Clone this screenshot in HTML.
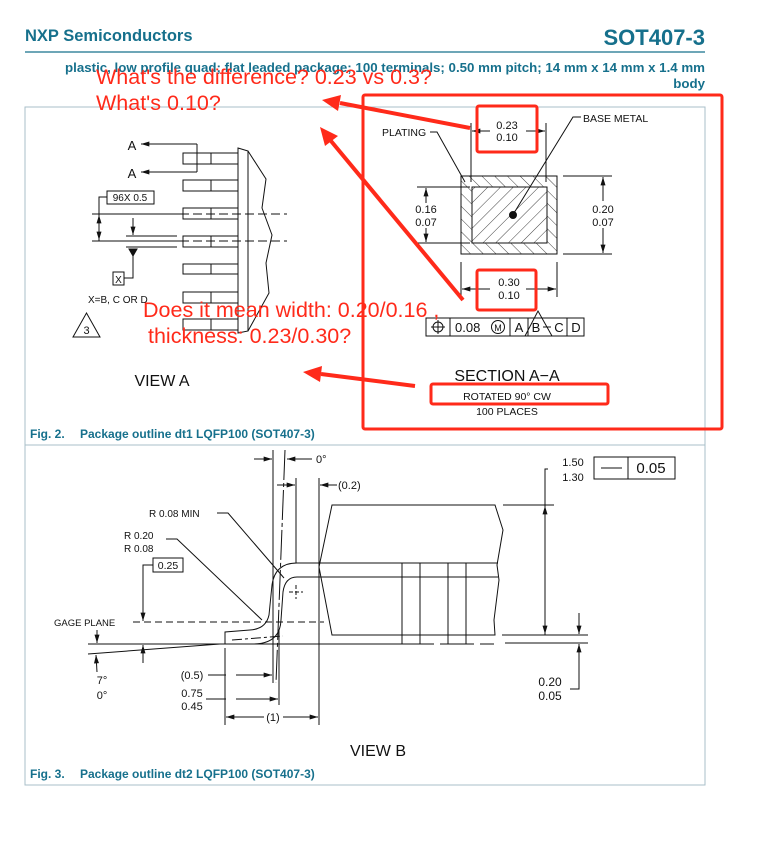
<!DOCTYPE html>
<html><head><meta charset="utf-8"><style>
html,body{margin:0;padding:0;background:#fff;}
svg{display:block;}
.d{font-family:"Liberation Sans",sans-serif;font-size:11px;fill:#111;}
.t{font-family:"Liberation Sans",sans-serif;font-weight:bold;fill:#16708c;}
.r{font-family:"Liberation Sans","Noto Sans CJK SC",sans-serif;font-size:21.5px;fill:#ff2a1a;}
</style></head><body>
<svg width="759" height="845" viewBox="0 0 759 845" xmlns="http://www.w3.org/2000/svg">
<defs>
<marker id="ah" viewBox="0 0 10 6" refX="10" refY="3" markerWidth="9" markerHeight="5" orient="auto-start-reverse" markerUnits="userSpaceOnUse"><path d="M0,0 L10,3 L0,6 z" fill="#111"/></marker>
<pattern id="h1" width="9" height="9" patternUnits="userSpaceOnUse" patternTransform="rotate(45)"><line x1="0" y1="0" x2="0" y2="9" stroke="#111" stroke-width="0.8"/></pattern>
<pattern id="h2" width="9" height="9" patternUnits="userSpaceOnUse" patternTransform="rotate(-45)"><line x1="0" y1="0" x2="0" y2="9" stroke="#111" stroke-width="0.8"/></pattern>
</defs>
<!-- header -->
<text class="t" x="25" y="41" font-size="16.5">NXP Semiconductors</text>
<text class="t" x="705" y="45" font-size="22" text-anchor="end">SOT407-3</text>
<line x1="25" y1="52" x2="705" y2="52" stroke="#16708c" stroke-width="1.2"/>
<text class="t" x="705" y="72" font-size="13.3" text-anchor="end">plastic, low profile quad; flat leaded package; 100 terminals; 0.50 mm pitch; 14 mm x 14 mm x 1.4 mm</text>
<text class="t" x="705" y="88" font-size="13.3" text-anchor="end">body</text>
<!-- panels -->
<rect x="25" y="107" width="680" height="338" fill="none" stroke="#a9bfc9"/>
<rect x="25" y="445" width="680" height="340" fill="none" stroke="#a9bfc9"/>
<text class="t" x="30" y="438" font-size="12">Fig. 2.</text>
<text class="t" x="80" y="438" font-size="12">Package outline dt1 LQFP100 (SOT407-3)</text>
<text class="t" x="30" y="778" font-size="12">Fig. 3.</text>
<text class="t" x="80" y="778" font-size="12">Package outline dt2 LQFP100 (SOT407-3)</text>

<g stroke="#111" stroke-width="1" fill="none">
<!-- VIEW A -->
<line x1="197" y1="144" x2="141" y2="144" marker-end="url(#ah)"/>
<line x1="197" y1="172" x2="141" y2="172" marker-end="url(#ah)"/>
<line x1="197" y1="144" x2="197" y2="172"/>
<rect x="183" y="153" width="55" height="11"/><line x1="211" y1="153" x2="211" y2="164"/>
<rect x="183" y="180" width="55" height="11"/><line x1="211" y1="180" x2="211" y2="191"/>
<rect x="183" y="208" width="55" height="11"/><line x1="211" y1="208" x2="211" y2="219"/>
<rect x="183" y="236" width="55" height="11"/><line x1="211" y1="236" x2="211" y2="247"/>
<rect x="183" y="264" width="55" height="10"/><line x1="211" y1="264" x2="211" y2="274"/>
<rect x="183" y="292" width="55" height="11"/><line x1="211" y1="292" x2="211" y2="303"/>
<rect x="183" y="319" width="55" height="11"/><line x1="211" y1="319" x2="211" y2="330"/>
<path d="M238,148 L248,151 L248,331 L238,333 Z"/>
<path d="M248,151 L266,179 L262,208 L272,235 L266,263 L269,293 L248,331"/>
<line x1="92" y1="214" x2="180" y2="214"/><line x1="180" y1="214" x2="287" y2="214" stroke-dasharray="9,4"/>
<line x1="92" y1="241" x2="180" y2="241"/><line x1="180" y1="241" x2="287" y2="241" stroke-dasharray="9,4"/>
<rect x="107" y="191" width="47" height="13"/>
<polyline points="107,197 99,197 99,241"/>
<line x1="99" y1="227" x2="99" y2="215" marker-end="url(#ah)"/>
<line x1="99" y1="228" x2="99" y2="240" marker-end="url(#ah)"/>
<line x1="133" y1="218" x2="133" y2="235" marker-end="url(#ah)"/>
<line x1="126" y1="236" x2="177" y2="236"/>
<line x1="126" y1="247" x2="177" y2="247"/>
<path d="M129,249 L137,249 L133,256 Z" fill="#111"/>
<polyline points="133,255 133,278 124,278"/>
<rect x="113" y="272" width="11" height="13"/>
<path d="M73,337 L100,337 L86.5,313 Z"/>
<!-- SECTION A-A -->
<rect x="461" y="176" width="96" height="78" fill="url(#h2)"/>
<rect x="472" y="187" width="75" height="56" fill="#fff"/>
<rect x="472" y="187" width="75" height="56" fill="url(#h1)"/>
<circle cx="513" cy="215" r="3.5" fill="#111"/>
<line x1="471" y1="123" x2="471" y2="182"/><line x1="546" y1="123" x2="546" y2="182"/>
<line x1="490" y1="131" x2="472" y2="131" marker-end="url(#ah)"/>
<line x1="526" y1="131" x2="545" y2="131" marker-end="url(#ah)"/>
<polyline points="430,132 437,132 465,182"/>
<polyline points="581,117 573,117 514,213"/>
<line x1="417" y1="187" x2="470" y2="187"/><line x1="417" y1="243" x2="470" y2="243"/>
<line x1="426" y1="203" x2="426" y2="188" marker-end="url(#ah)"/>
<line x1="426" y1="228" x2="426" y2="242" marker-end="url(#ah)"/>
<line x1="563" y1="176" x2="612" y2="176"/><line x1="563" y1="254" x2="612" y2="254"/>
<line x1="603" y1="201" x2="603" y2="177" marker-end="url(#ah)"/>
<line x1="603" y1="228" x2="603" y2="253" marker-end="url(#ah)"/>
<line x1="461" y1="262" x2="461" y2="297"/><line x1="557" y1="262" x2="557" y2="297"/>
<line x1="490" y1="289" x2="462" y2="289" marker-end="url(#ah)"/>
<line x1="526" y1="289" x2="556" y2="289" marker-end="url(#ah)"/>
<rect x="426" y="318" width="158" height="18"/>
<line x1="450" y1="318" x2="450" y2="336"/><line x1="510" y1="318" x2="510" y2="336"/>
<line x1="528" y1="318" x2="528" y2="336"/><line x1="567" y1="318" x2="567" y2="336"/>
<circle cx="438" cy="327" r="5"/><line x1="431" y1="327" x2="445" y2="327"/><line x1="438" y1="320" x2="438" y2="334"/>
<circle cx="498" cy="327" r="6.5"/>
<path d="M525,336 L552,336 L538,311 Z"/>
<line x1="543" y1="327" x2="551" y2="327"/>
<!-- VIEW B -->
<line x1="273" y1="450" x2="273" y2="683"/>
<line x1="285" y1="450" x2="276" y2="683" stroke-dasharray="30,3,4,3"/>
<line x1="254" y1="459" x2="272" y2="459" marker-end="url(#ah)"/>
<line x1="312" y1="459" x2="287" y2="459" marker-end="url(#ah)"/>
<line x1="296" y1="478" x2="296" y2="563"/>
<line x1="319" y1="478" x2="319" y2="725"/>
<line x1="277" y1="485" x2="295" y2="485" marker-end="url(#ah)"/>
<line x1="337" y1="485" x2="320" y2="485" marker-end="url(#ah)"/>
<path d="M332,505 L495,505 L503,530 L497,565 L499,580 L494,620 L495,635 L332,635 L319,567 Z"/>
<line x1="503" y1="505" x2="554" y2="505"/>
<line x1="297" y1="563" x2="498" y2="563"/>
<line x1="297" y1="577" x2="498" y2="577"/>
<path d="M297,563 Q275,563 272,585 L269,615 Q266,629 250,630 L225,632 L225,644 L253,644 Q280,644 281,620 L283,592 Q285,577 297,577"/>
<rect x="402" y="563" width="18" height="81"/><line x1="402" y1="635" x2="420" y2="635"/>
<rect x="448" y="563" width="18" height="81"/><line x1="448" y1="635" x2="466" y2="635"/>
<line x1="88" y1="644" x2="402" y2="644"/>
<line x1="420" y1="644" x2="497" y2="644" stroke-dasharray="14,6"/>
<line x1="502" y1="635" x2="588" y2="635"/>
<line x1="505" y1="643" x2="588" y2="643"/>
<line x1="88" y1="654" x2="220" y2="644"/>
<line x1="232" y1="640" x2="283" y2="636" stroke-dasharray="10,3,3,3"/>
<line x1="133" y1="622" x2="324" y2="622" stroke-dasharray="7,4"/>
<line x1="289" y1="592" x2="303" y2="592" stroke-dasharray="4,2"/><line x1="296" y1="585" x2="296" y2="599" stroke-dasharray="4,2"/>
<rect x="153" y="558" width="30" height="14"/>
<polyline points="153,565 143,565 143,621"/>
<line x1="143" y1="605" x2="143" y2="621" marker-end="url(#ah)"/>
<line x1="143" y1="663" x2="143" y2="645" marker-end="url(#ah)"/>
<line x1="97" y1="630" x2="97" y2="643" marker-end="url(#ah)"/>
<line x1="97" y1="672" x2="96" y2="655" marker-end="url(#ah)"/>
<line x1="225" y1="648" x2="225" y2="725"/>
<line x1="279" y1="630" x2="279" y2="705"/>
<line x1="208" y1="675" x2="226" y2="675"/>
<line x1="236" y1="675" x2="272" y2="675" marker-end="url(#ah)"/>
<line x1="206" y1="699" x2="226" y2="699"/>
<line x1="236" y1="699" x2="278" y2="699" marker-end="url(#ah)"/>
<line x1="264" y1="717" x2="226" y2="717" marker-end="url(#ah)"/>
<line x1="283" y1="717" x2="318" y2="717" marker-end="url(#ah)"/>
<polyline points="217,513 228,513 284,578"/>
<polyline points="166,539 177,539 262,620"/>
<polyline points="548,469 545,469 545,635"/>
<line x1="545" y1="520" x2="545" y2="506" marker-end="url(#ah)"/>
<line x1="545" y1="620" x2="545" y2="634" marker-end="url(#ah)"/>
<rect x="594" y="457" width="81" height="22"/><line x1="628" y1="457" x2="628" y2="479"/>
<line x1="601" y1="468" x2="622" y2="468"/>
<line x1="579" y1="613" x2="579" y2="634" marker-end="url(#ah)"/>
<polyline points="570,689 579,689 579,644" marker-end="url(#ah)"/>
</g>
<g class="d">
<text x="132" y="150" font-size="13" text-anchor="middle">A</text>
<text x="132" y="178" font-size="13" text-anchor="middle">A</text>
<text x="130" y="201" font-size="10" text-anchor="middle">96X 0.5</text>
<text x="118.5" y="283" font-size="10" text-anchor="middle">X</text>
<text x="88" y="303" font-size="10">X=B, C OR D</text>
<text x="86.5" y="334" font-size="11" text-anchor="middle">3</text>
<text x="162" y="386" font-size="16" text-anchor="middle">VIEW A</text>
<text x="507" y="129" text-anchor="middle">0.23</text>
<text x="507" y="141" text-anchor="middle">0.10</text>
<text x="382" y="136" font-size="10.5">PLATING</text>
<text x="583" y="122" font-size="10.5">BASE METAL</text>
<text x="426" y="213" text-anchor="middle">0.16</text>
<text x="426" y="226" text-anchor="middle">0.07</text>
<text x="603" y="213" text-anchor="middle">0.20</text>
<text x="603" y="226" text-anchor="middle">0.07</text>
<text x="509" y="286" text-anchor="middle">0.30</text>
<text x="509" y="299" text-anchor="middle">0.10</text>
<text x="455" y="332" font-size="13">0.08</text>
<text x="498" y="331" font-size="9" text-anchor="middle">M</text>
<text x="519" y="332" font-size="13" text-anchor="middle">A</text>
<text x="536" y="332" font-size="13" text-anchor="middle">B</text>
<text x="559" y="332" font-size="13" text-anchor="middle">C</text>
<text x="576" y="332" font-size="13" text-anchor="middle">D</text>
<text x="507" y="381" font-size="16" text-anchor="middle">SECTION A−A</text>
<text x="507" y="400" font-size="10.5" text-anchor="middle">ROTATED 90° CW</text>
<text x="507" y="415" font-size="10.5" text-anchor="middle">100 PLACES</text>
<text x="316" y="463" font-size="11">0°</text>
<text x="338" y="489">(0.2)</text>
<text x="149" y="517" font-size="10">R 0.08 MIN</text>
<text x="124" y="539" font-size="10">R 0.20</text>
<text x="124" y="552" font-size="10">R 0.08</text>
<text x="168" y="569" font-size="10.5" text-anchor="middle">0.25</text>
<text x="54" y="626" font-size="9.5">GAGE PLANE</text>
<text x="102" y="684" text-anchor="middle">7°</text>
<text x="102" y="699" text-anchor="middle">0°</text>
<text x="192" y="679" text-anchor="middle">(0.5)</text>
<text x="192" y="697" text-anchor="middle">0.75</text>
<text x="192" y="710" text-anchor="middle">0.45</text>
<text x="273" y="721" text-anchor="middle">(1)</text>
<text x="573" y="466" text-anchor="middle">1.50</text>
<text x="573" y="481" text-anchor="middle">1.30</text>
<text x="651" y="473" font-size="15" text-anchor="middle">0.05</text>
<text x="550" y="686" font-size="12" text-anchor="middle">0.20</text>
<text x="550" y="700" font-size="12" text-anchor="middle">0.05</text>
<text x="378" y="756" font-size="16" text-anchor="middle">VIEW B</text>
</g>
<!-- red annotations -->
<g fill="none" stroke="#ff2a1a" stroke-width="3">
<rect x="363" y="95" width="359" height="334" rx="2"/>
<rect x="477" y="106" width="60" height="46" rx="2"/>
<rect x="477" y="270" width="59" height="40" rx="2"/>
<rect x="431" y="384" width="177" height="20" rx="2"/>
<line x1="470" y1="128" x2="340" y2="103" stroke-width="4"/>
<line x1="463" y1="300" x2="331" y2="141" stroke-width="4"/>
<line x1="415" y1="386" x2="321" y2="374" stroke-width="4"/>
</g>
<g fill="#ff2a1a">
<polygon points="322,100 341,95 338,111"/>
<polygon points="320,127 338,136 325,146"/>
<polygon points="303,372 322,366 320,382"/>
</g>
<text class="r" x="96" y="84">What's the difference? 0.23 vs 0.3?</text>
<text class="r" x="96" y="110">What's 0.10?</text>
<text class="r" x="143" y="317" font-size="22">Does it mean width: 0.20/0.16 ,</text>
<text class="r" x="148" y="343" font-size="22">thickness: 0.23/0.30?</text>
</svg>
</body></html>
